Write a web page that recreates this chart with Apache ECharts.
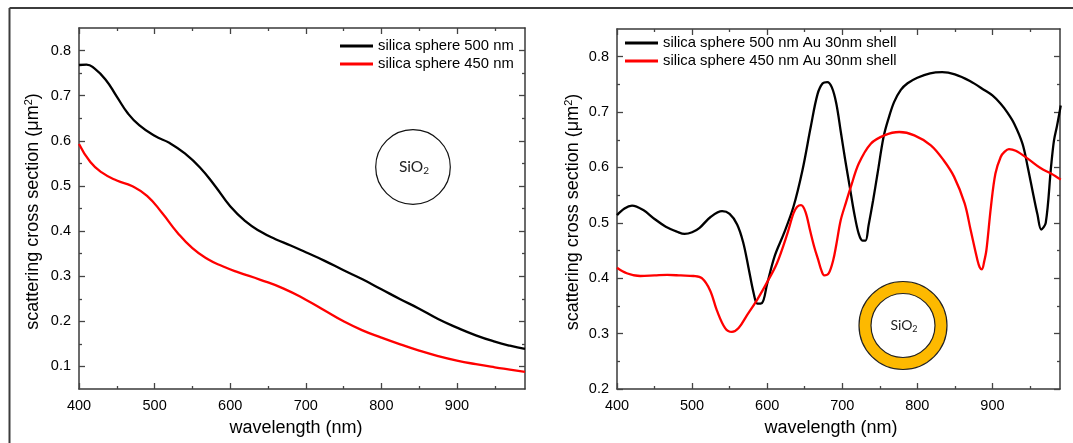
<!DOCTYPE html>
<html>
<head>
<meta charset="utf-8">
<style>html,body{margin:0;padding:0;background:#fff}#c{width:1073px;height:443px}</style>
<script src="https://cdn.jsdelivr.net/npm/echarts@6/dist/echarts.min.js"></script>
</head>
<body>
<div id="c"></div>
<script>
const leftBlackWave = [400,410,420,435,450,465,480,500,520,540,560,580,600,620,640,660,680,700,725,750,775,800,825,850,875,900,925,950,970,990];
const leftBlack = [.768,.769,.761,.736,.698,.660,.634,.611,.595,.572,.541,.500,.455,.422,.399,.382,.368,.353,.334,.313,.293,.271,.249,.228,.205,.186,.169,.155,.146,.139];
const leftRedWave = [400,415,430,450,470,490,510,530,550,570,590,610,640,670,700,725,750,775,800,825,850,875,900,925,950,970,990];
const leftRed = [.593,.553,.530,.512,.500,.478,.440,.397,.362,.338,.322,.309,.292,.273,.248,.224,.200,.180,.164,.149,.135,.123,.113,.105,.098,.093,.088];

const rightBlackWave = [400,410,420,435,450,465,480,490,500,510,525,540,550,560,568,575,582,587,593,600,610,622,635,647,658,667,674,680,686,692,698,704,710,716,722,727,731,735,741,747,755,762,769,778,787,800,817,833,850,870,889,900,911,920,929,940,947,955,960,965,971,978,982,986,991];
const rightBlack = [.514,.526,.531,.523,.507,.493,.484,.480,.483,.491,.511,.521,.516,.497,.465,.42,.373,.354,.355,.39,.44,.48,.529,.595,.673,.732,.752,.754,.745,.716,.665,.613,.565,.517,.48,.468,.468,.495,.54,.589,.655,.69,.718,.74,.752,.762,.77,.772,.768,.756,.74,.73,.715,.699,.679,.643,.601,.547,.515,.488,.5,.60,.649,.675,.712];
const rightRedWave = [400,413,431,450,467,485,502,513,524,533,544,553,562,573,587,600,613,627,635,640,645,651,657,663,668,672,676,682,688,692,698,705,711,722,738,756,776,796,818,835,849,863,871,880,883,886,889,892,898,904,911,916,922,931,947,964,978,991];
const rightRed = [.419,.409,.404,.405,.406,.405,.404,.40,.378,.342,.31,.303,.31,.333,.362,.393,.427,.481,.517,.529,.532,.52,.487,.455,.433,.415,.405,.409,.433,.46,.505,.537,.563,.607,.643,.658,.664,.658,.64,.613,.583,.535,.487,.433,.42,.416,.43,.451,.529,.589,.619,.628,.633,.63,.616,.599,.589,.578];

const xMajor = [400,500,600,700,800,900];
const xMinor = [450,550,650,750,850,950];
const leftYMajor = [0.1,0.2,0.3,0.4,0.5,0.6,0.7,0.8];
const leftYMinor = [0.15,0.25,0.35,0.45,0.55,0.65,0.75];
const rightYMajor = [0.2,0.3,0.4,0.5,0.6,0.7,0.8];
const rightYMinor = [0.25,0.35,0.45,0.55,0.65,0.75];
const xTitle = 'wavelength (nm)';
const yTitle = 'scattering cross section ({a|\u03bcm}{s|2})';
const leftNames = ['silica sphere 500 nm','silica sphere 450 nm'];
const rightNames = ['silica sphere 500 nm Au 30nm shell','silica sphere 450 nm Au 30nm shell'];

const FONT = '"Liberation Sans", Arial, sans-serif';
const AXC = '#3a3a3a', TICKC = '#444', TXT = '#000';

function xAxis(g, pos, major, ticks, len, withLabel, shift){
  return {
    type:'value', gridIndex:g, position:pos, min:400, max:990,
    splitLine:{show:false}, minorTick:{show:false},
    axisLine:{show:major, onZero:false, lineStyle:{color:AXC,width:1.5}},
    axisTick:{show:true, inside:true, length:len, customValues:ticks, lineStyle:{color:TICKC,width:1.3}},
    axisLabel:{show:withLabel, customValues:ticks, margin:9, color:TXT, fontFamily:FONT, fontSize:14.5, formatter:v=>String(v)},
    name: withLabel ? xTitle : '', nameLocation:'middle', nameGap:30,
    nameTextStyle:{color:TXT, fontFamily:FONT, fontSize:18, padding:[0,shift||0,0,0]}
  };
}
function yAxis(g, pos, major, ticks, len, withLabel, min, gap){
  return {
    type:'value', gridIndex:g, position:pos, min:min, max:0.85,
    splitLine:{show:false}, minorTick:{show:false},
    axisLine:{show:major, onZero:false, lineStyle:{color:AXC,width:1.5}},
    axisTick:{show:true, inside:true, length:len, customValues:ticks, lineStyle:{color:TICKC,width:1.3}},
    axisLabel:{show:withLabel, customValues:ticks, margin:8, color:TXT, fontFamily:FONT, fontSize:14.5, formatter:v=>v.toFixed(1)},
    name: withLabel ? yTitle : '', nameLocation:'middle', nameGap:gap||36, nameRotate:90,
    nameTextStyle:{color:TXT, fontFamily:FONT, fontSize:18, padding:[0,6,0,0],
      rich:{a:{fontFamily:FONT,fontSize:18,color:TXT}, s:{fontFamily:FONT,fontSize:11,color:TXT,verticalAlign:'top',lineHeight:20,padding:[0,0,8,0]}}}
  };
}
function pairs(xs, ys){ return xs.map((x,i)=>[x,ys[i]]); }
function line(name, g, xs, ys, color, sm){
  return {
    name:name, type:'line', xAxisIndex:g*4, yAxisIndex:g*4, data:pairs(xs,ys),
    symbol:'none', showSymbol:false, smooth:sm, clip:true,
    lineStyle:{color:color,width:2.3}, itemStyle:{color:color}, z:3
  };
}
function legend(names, left, top){
  return {
    data:names, orient:'vertical', left:left, top:top, padding:0, itemGap:0,
    itemWidth:33, itemHeight:3, selectedMode:false, icon:'rect',
    textStyle:{color:TXT, fontFamily:FONT, fontSize:14.8, lineHeight:18}
  };
}

const option = {
  animation:false,
  backgroundColor:'#fff',
  grid:[
    {left:79, top:28, width:446, height:361},
    {left:617, top:29, width:443, height:360}
  ],
  xAxis:[
    xAxis(0,'bottom',true,xMajor,6,true,12), xAxis(0,'top',true,xMajor,6,false),
    xAxis(0,'bottom',false,xMinor,3,false), xAxis(0,'top',false,xMinor,3,false),
    xAxis(1,'bottom',true,xMajor,6,true,15), xAxis(1,'top',true,xMajor,6,false),
    xAxis(1,'bottom',false,xMinor,3,false), xAxis(1,'top',false,xMinor,3,false)
  ],
  yAxis:[
    yAxis(0,'left',true,leftYMajor,6,true,0.05,36), yAxis(0,'right',true,leftYMajor,6,false,0.05),
    yAxis(0,'left',false,leftYMinor,3,false,0.05), yAxis(0,'right',false,leftYMinor,3,false,0.05),
    yAxis(1,'left',true,rightYMajor,6,true,0.2,34), yAxis(1,'right',true,rightYMajor,6,false,0.2),
    yAxis(1,'left',false,rightYMinor,3,false,0.2), yAxis(1,'right',false,rightYMinor,3,false,0.2)
  ],
  legend:[ legend(leftNames,340,37), legend(rightNames,625,34) ],
  series:[
    line(leftNames[0],0,leftBlackWave,leftBlack,'#000',0.5),
    line(leftNames[1],0,leftRedWave,leftRed,'#f00',0.5),
    line(rightNames[0],1,rightBlackWave,rightBlack,'#000',0.35),
    line(rightNames[1],1,rightRedWave,rightRed,'#f00',0.35)
  ],
  graphic:[
    {type:'line', shape:{x1:9.5,y1:8,x2:1073,y2:8}, style:{stroke:'#3c3c3c',lineWidth:2}},
    {type:'line', shape:{x1:9.5,y1:8,x2:9.5,y2:443}, style:{stroke:'#3c3c3c',lineWidth:2}},
    {type:'circle', shape:{cx:413,cy:167,r:37.3}, style:{fill:'#fff',stroke:'#111',lineWidth:1.2}, z:5},
    {type:'text', x:414, y:167, z:6, style:{text:'SiO{s|2}', align:'center', verticalAlign:'middle',
      font:'15.5px Lato, sans-serif', fill:'#222', rich:{s:{font:'10px Lato, sans-serif',fill:'#222',verticalAlign:'bottom',padding:[8,0,0,0]}}}},
    {type:'ring', shape:{cx:903,cy:325.5,r:44,r0:32}, style:{fill:'#FDB900',stroke:'#222',lineWidth:1.2}, z:5},
    {type:'text', x:904, y:325.5, z:6, style:{text:'SiO{s|2}', align:'center', verticalAlign:'middle',
      font:'14px Lato, sans-serif', fill:'#222', rich:{s:{font:'9px Lato, sans-serif',fill:'#222',verticalAlign:'bottom',padding:[7,0,0,0]}}}}
  ]
};
echarts.init(document.getElementById('c'),null,{renderer:'canvas'}).setOption(option);
</script>
</body>
</html>
